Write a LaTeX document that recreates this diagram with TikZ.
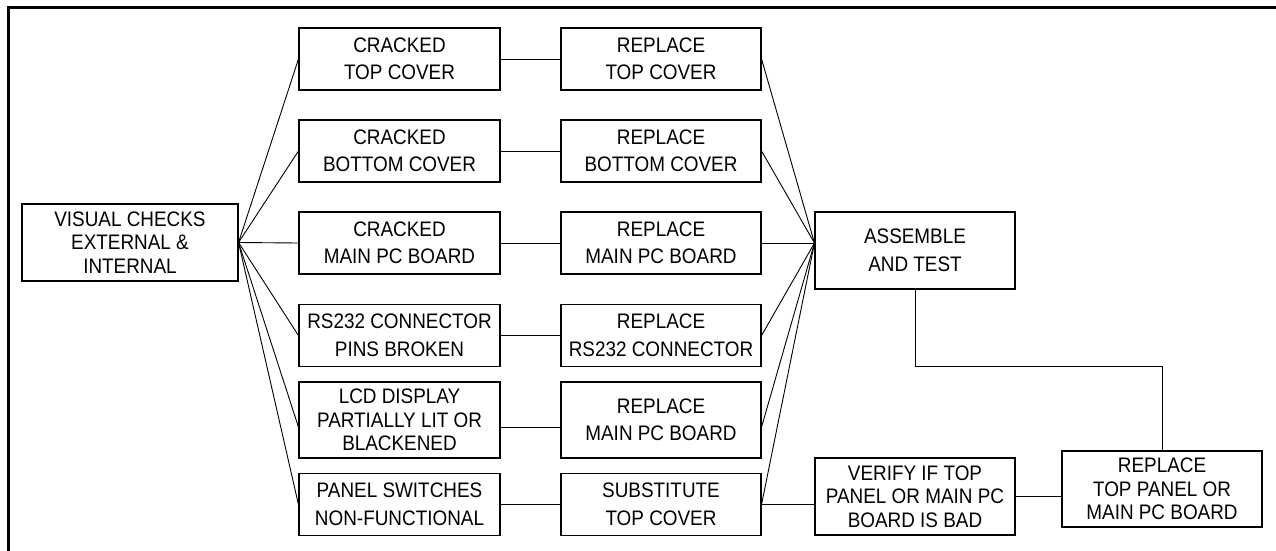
\documentclass[tikz,border=0pt]{standalone}
\usepackage{fontspec}
\setmainfont{Liberation Sans}[FakeStretch=0.9]
\tikzset{
  box/.style={draw, line width=1.1pt, minimum width=200pt, minimum height=62pt,
    inner sep=0pt, align=center, font=\fontsize{21}{27.5}\selectfont},
  tallbox/.style={box, minimum height=76pt},
  threeline/.style={font=\fontsize{21}{23.5}\selectfont},
  wire/.style={line width=0.9pt}
}
\begin{document}
\begin{tikzpicture}[x=1pt,y=-1pt]
    \useasboundingbox (0,0) rectangle (1276,551);
    \draw[line width=3pt] (8,551) -- (8,8) -- (1276,8);
    \node[box, threeline, minimum width=216pt, minimum height=77pt] (vis) at (130,242.5) {VISUAL CHECKS\\EXTERNAL \&\\INTERNAL};
    \node[box, minimum width=201pt] (crkTop) at (399.5,59) {CRACKED\\TOP COVER};
    \node[box, minimum width=201pt] (crkBot) at (399.5,151) {CRACKED\\BOTTOM COVER};
    \node[box, minimum width=201pt] (crkPcb) at (399.5,243) {CRACKED\\MAIN PC BOARD};
    \node[box, minimum width=201pt] (pins) at (399.5,335.5) {RS232 CONNECTOR\\PINS BROKEN};
    \node[tallbox, threeline, minimum width=201pt] (lcd) at (399.5,420) {LCD DISPLAY\\PARTIALLY LIT OR\\BLACKENED};
    \node[box, minimum width=201pt] (keys) at (399.5,504.5) {PANEL SWITCHES\\NON-FUNCTIONAL};
    \node[box] (repTop) at (661,59) {REPLACE\\TOP COVER};
    \node[box] (repBot) at (661,151) {REPLACE\\BOTTOM COVER};
    \node[box] (repPcb) at (661,243) {REPLACE\\MAIN PC BOARD};
    \node[box] (repConn) at (661,335.5) {REPLACE\\RS232 CONNECTOR};
    \node[tallbox] (repLcd) at (661,420) {REPLACE\\MAIN PC BOARD};
    \node[box] (subTop) at (661,504.5) {SUBSTITUTE\\TOP COVER};
    \node[box, minimum height=77pt] (asm) at (915,250.5) {ASSEMBLE\\AND TEST};
    \node[box, threeline, minimum height=77pt] (verify) at (915,496.5) {VERIFY IF TOP\\PANEL OR MAIN PC\\BOARD IS BAD};
    \node[box, threeline, minimum height=76pt] (repPanel) at (1162,489) {REPLACE\\TOP PANEL OR\\MAIN PC BOARD};
    \coordinate (asmIn) at (asm.west |- repPcb.east);
    \draw[wire] (vis.east) -- (crkTop.west);
    \draw[wire] (vis.east) -- (crkBot.west);
    \draw[wire] (vis.east) -- (crkPcb.west);
    \draw[wire] (vis.east) -- (pins.west);
    \draw[wire] (vis.east) -- ([yshift=-7pt]lcd.west);
    \draw[wire] (vis.east) -- (keys.west);
    \draw[wire] (crkTop) -- (repTop);
    \draw[wire] (crkBot) -- (repBot);
    \draw[wire] (crkPcb) -- (repPcb);
    \draw[wire] (pins) -- (repConn);
    \draw[wire] ([yshift=-7pt]lcd.east) -- ([yshift=-7pt]repLcd.west);
    \draw[wire] (keys) -- (subTop);
    \draw[wire] (repTop.east) -- (asmIn);
    \draw[wire] (repBot.east) -- (asmIn);
    \draw[wire] (repPcb.east) -- (asmIn);
    \draw[wire] (repConn.east) -- (asmIn);
    \draw[wire] ([yshift=-7pt]repLcd.east) -- (asmIn);
    \draw[wire] (subTop.east) -- (asmIn);
    \draw[wire] (subTop.east) -- (verify.west |- subTop.east);
    \draw[wire] (verify.east) -- (repPanel.west |- verify.east);
    \draw[wire] (asm.south) -- ++(0,77) -| (repPanel.north);
  \end{tikzpicture}
\end{document}
